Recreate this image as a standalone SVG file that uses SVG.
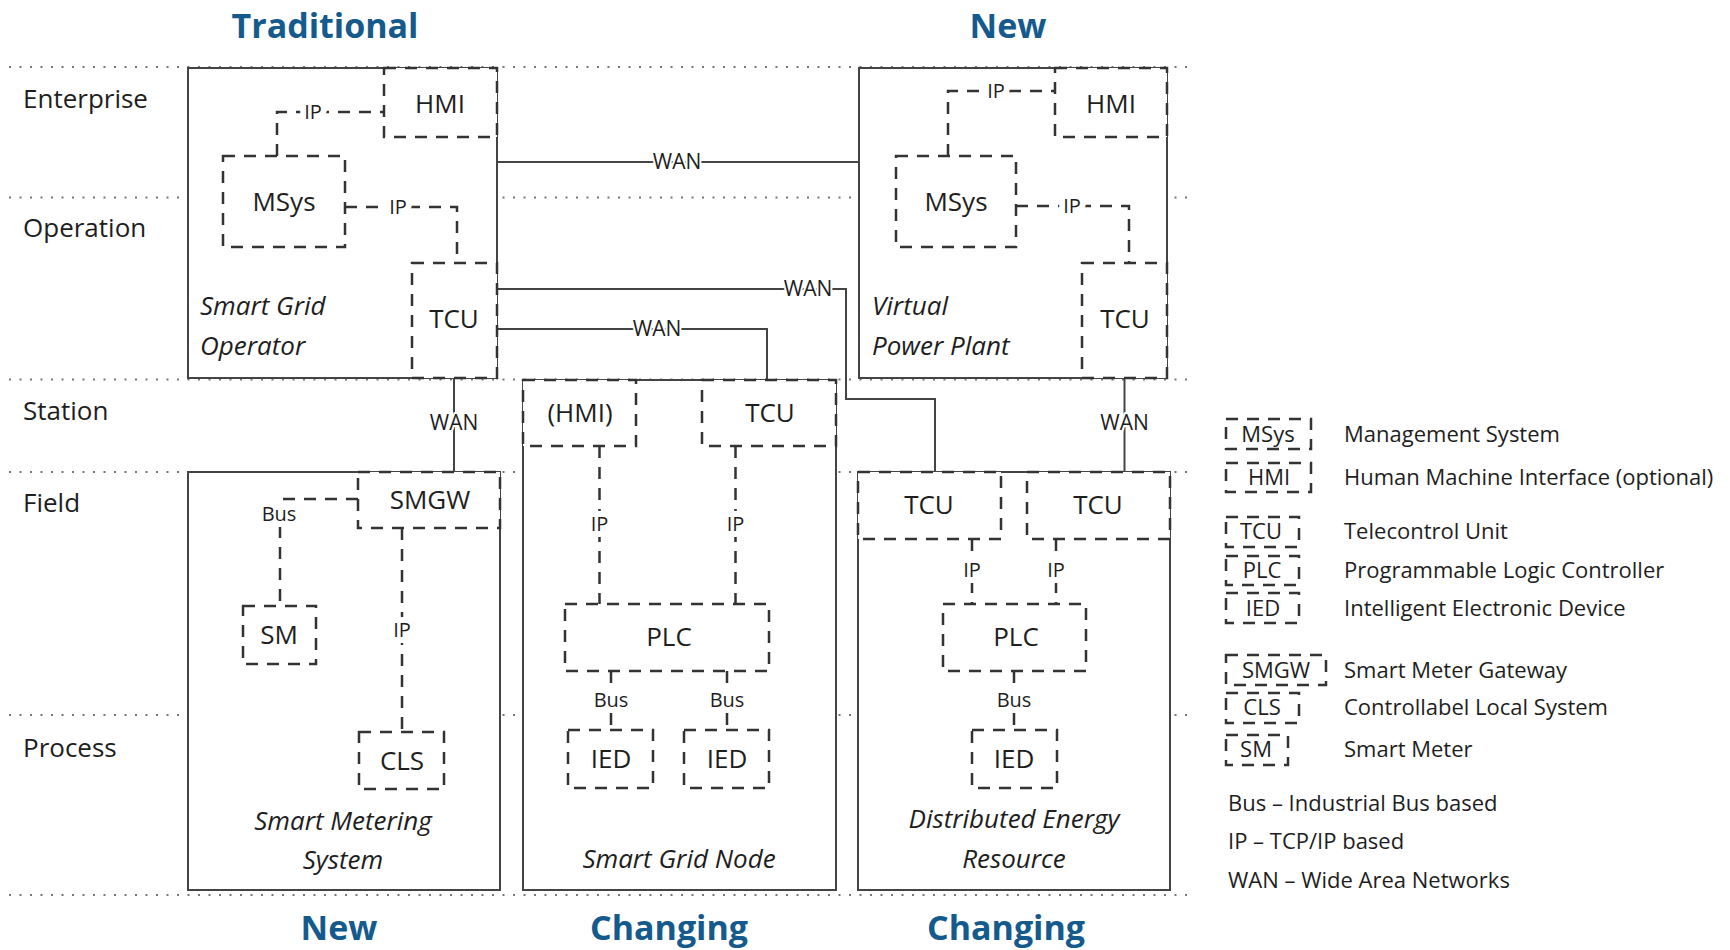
<svg xmlns="http://www.w3.org/2000/svg" width="1730" height="950" viewBox="0 0 1730 950">
<style>
.bg{fill:#fff}
.grid{stroke:#777;stroke-width:2;stroke-dasharray:2 8.5;fill:none}
.par{fill:#fff;stroke:#444;stroke-width:2}
.dn{fill:#fff;stroke:#333;stroke-width:2.5;stroke-dasharray:12 9}
.lg{fill:none;stroke:#333;stroke-width:2.5;stroke-dasharray:12 9}
.sol{fill:none;stroke:#444;stroke-width:2}
.dl{fill:none;stroke:#333;stroke-width:2.5;stroke-dasharray:12 9}
.t{font-family:'Open Sans','Liberation Sans',sans-serif;fill:#1e1e1e}
.nl{font-size:26px;text-anchor:middle}
.row{font-size:26px}
.it{font-size:26px;font-style:italic}
.cl{font-size:20px;text-anchor:middle;stroke:#fff;stroke-width:12;paint-order:stroke;stroke-linejoin:round}
.wan{font-size:21px;stroke-width:4}
.hd{font-family:'Open Sans','Liberation Sans',sans-serif;font-weight:bold;font-size:34px;fill:#145a8c;text-anchor:middle}
.lgt{font-size:22px}
</style>
<rect class="bg" x="0" y="0" width="1730" height="950"/>
<g id="layers">
<line class="grid" x1="9" y1="67" x2="1195" y2="67"/>
<line class="grid" x1="9" y1="197.5" x2="1195" y2="197.5"/>
<line class="grid" x1="9" y1="379.5" x2="1195" y2="379.5"/>
<line class="grid" x1="9" y1="472" x2="1195" y2="472"/>
<line class="grid" x1="9" y1="715" x2="1195" y2="715"/>
<line class="grid" x1="9" y1="895" x2="1195" y2="895"/>
<text class="t row" x="23" y="108">Enterprise</text>
<text class="t row" x="23" y="237">Operation</text>
<text class="t row" x="23" y="420">Station</text>
<text class="t row" x="23" y="512">Field</text>
<text class="t row" x="23" y="757">Process</text>
</g>
<g id="titles">
<text class="hd" x="325" y="38">Traditional</text>
<text class="hd" x="1008" y="38">New</text>
<text class="hd" x="339" y="940">New</text>
<text class="hd" x="669" y="940">Changing</text>
<text class="hd" x="1006" y="940">Changing</text>
</g>
<g id="sgo">
<rect class="par" x="188" y="68" width="309" height="310"/>
<text class="t it" x="200" y="315">Smart Grid</text>
<text class="t it" x="200" y="355">Operator</text>
</g>
<g id="vpp">
<rect class="par" x="859" y="68" width="308" height="310"/>
<text class="t it" x="872" y="315">Virtual</text>
<text class="t it" x="872" y="355">Power Plant</text>
</g>
<g id="sms">
<rect class="par" x="188" y="472" width="312" height="418"/>
<text class="t it" x="343" y="830" text-anchor="middle">Smart Metering</text>
<text class="t it" x="343" y="869" text-anchor="middle">System</text>
</g>
<g id="sgn">
<rect class="par" x="523" y="380" width="313" height="510"/>
<text class="t it" x="679" y="868" text-anchor="middle">Smart Grid Node</text>
</g>
<g id="der">
<rect class="par" x="858" y="472" width="312" height="418"/>
<text class="t it" x="1014" y="828" text-anchor="middle">Distributed Energy</text>
<text class="t it" x="1014" y="868" text-anchor="middle">Resource</text>
</g>
<g id="connectors">
<path class="sol" d="M497,162 H859"/>
<path class="sol" d="M497,289 H846 V399 H935 V472"/>
<path class="sol" d="M497,329 H767 V380"/>
<path class="sol" d="M454,378 V472"/>
<path class="sol" d="M1124.5,378 V472"/>
<path class="dl" d="M277,156 V112 H384"/>
<path class="dl" d="M345,207 H457 V263"/>
<path class="dl" d="M948,156 V91 H1055"/>
<path class="dl" d="M1016,206 H1129 V263"/>
<path class="dl" d="M358,499 H280 V606"/>
<path class="dl" d="M402,528 V732"/>
<path class="dl" d="M599.5,446 V604"/>
<path class="dl" d="M735.5,446 V604"/>
<path class="dl" d="M611,671 V730"/>
<path class="dl" d="M727,671 V730"/>
<path class="dl" d="M972,539 V604"/>
<path class="dl" d="M1056,539 V604"/>
<path class="dl" d="M1014,671 V730"/>
<text class="t cl wan" x="677" y="169">WAN</text>
<text class="t cl wan" x="808" y="296">WAN</text>
<text class="t cl wan" x="657" y="336">WAN</text>
<text class="t cl wan" x="454" y="430">WAN</text>
<text class="t cl wan" x="1124.5" y="430">WAN</text>
<text class="t cl" x="313" y="119">IP</text>
<text class="t cl" x="398" y="214">IP</text>
<text class="t cl" x="996" y="98">IP</text>
<text class="t cl" x="1072" y="213">IP</text>
<text class="t cl" x="279" y="521">Bus</text>
<text class="t cl" x="402" y="637">IP</text>
<text class="t cl" x="599.5" y="531">IP</text>
<text class="t cl" x="735.5" y="531">IP</text>
<text class="t cl" x="611" y="707">Bus</text>
<text class="t cl" x="727" y="707">Bus</text>
<text class="t cl" x="972" y="577">IP</text>
<text class="t cl" x="1056" y="577">IP</text>
<text class="t cl" x="1014" y="707">Bus</text>
</g>
<g id="hmi1"><rect class="dn" x="384" y="68" width="113" height="69"/><text class="t nl" x="440" y="113">HMI</text></g>
<g id="msys1"><rect class="dn" x="223" y="156" width="122" height="91"/><text class="t nl" x="284" y="211">MSys</text></g>
<g id="tcu1"><rect class="dn" x="412" y="263" width="85" height="115"/><text class="t nl" x="454" y="328">TCU</text></g>
<g id="hmi2"><rect class="dn" x="1055" y="68" width="112" height="69"/><text class="t nl" x="1111" y="113">HMI</text></g>
<g id="msys2"><rect class="dn" x="896" y="156" width="120" height="91"/><text class="t nl" x="956" y="211">MSys</text></g>
<g id="tcu2"><rect class="dn" x="1082" y="263" width="85" height="115"/><text class="t nl" x="1125" y="328">TCU</text></g>
<g id="smgw"><rect class="dn" x="358" y="472" width="142" height="56"/><text class="t nl" x="430" y="509">SMGW</text></g>
<g id="sm"><rect class="dn" x="243" y="606" width="73" height="58"/><text class="t nl" x="279" y="644">SM</text></g>
<g id="cls"><rect class="dn" x="359" y="732" width="85" height="57"/><text class="t nl" x="402" y="770">CLS</text></g>
<g id="hmi3"><rect class="dn" x="523" y="380" width="113" height="66"/><text class="t nl" x="580" y="422">(HMI)</text></g>
<g id="tcu3"><rect class="dn" x="702" y="380" width="134" height="66"/><text class="t nl" x="770" y="422">TCU</text></g>
<g id="plc3"><rect class="dn" x="565" y="604" width="204" height="67"/><text class="t nl" x="669" y="646">PLC</text></g>
<g id="ied3a"><rect class="dn" x="568" y="730" width="85" height="58"/><text class="t nl" x="611" y="768">IED</text></g>
<g id="ied3b"><rect class="dn" x="684" y="730" width="85" height="58"/><text class="t nl" x="727" y="768">IED</text></g>
<g id="tcu4a"><rect class="dn" x="858" y="472" width="143" height="67"/><text class="t nl" x="929" y="514">TCU</text></g>
<g id="tcu4b"><rect class="dn" x="1027" y="472" width="143" height="67"/><text class="t nl" x="1098" y="514">TCU</text></g>
<g id="plc4"><rect class="dn" x="943" y="604" width="143" height="67"/><text class="t nl" x="1016" y="646">PLC</text></g>
<g id="ied4"><rect class="dn" x="972" y="730" width="85" height="58"/><text class="t nl" x="1014" y="768">IED</text></g>
<g id="legend">
<rect class="lg" x="1226" y="419" width="85" height="30"/><text class="t lgt" x="1268" y="442" text-anchor="middle">MSys</text><text class="t lgt" x="1344" y="442">Management System</text>
<rect class="lg" x="1226" y="463" width="85" height="29"/><text class="t lgt" x="1269" y="485" text-anchor="middle">HMI</text><text class="t lgt" x="1344" y="485">Human Machine Interface (optional)</text>
<rect class="lg" x="1226" y="517" width="73" height="30"/><text class="t lgt" x="1261" y="539" text-anchor="middle">TCU</text><text class="t lgt" x="1344" y="539">Telecontrol Unit</text>
<rect class="lg" x="1226" y="556" width="73" height="29"/><text class="t lgt" x="1262" y="578" text-anchor="middle">PLC</text><text class="t lgt" x="1344" y="578">Programmable Logic Controller</text>
<rect class="lg" x="1226" y="593" width="73" height="30"/><text class="t lgt" x="1263" y="616" text-anchor="middle">IED</text><text class="t lgt" x="1344" y="616">Intelligent Electronic Device</text>
<rect class="lg" x="1226" y="655" width="100" height="30"/><text class="t lgt" x="1276" y="678" text-anchor="middle">SMGW</text><text class="t lgt" x="1344" y="678">Smart Meter Gateway</text>
<rect class="lg" x="1226" y="693" width="73" height="30"/><text class="t lgt" x="1262" y="715" text-anchor="middle">CLS</text><text class="t lgt" x="1344" y="715">Controllabel Local System</text>
<rect class="lg" x="1226" y="735" width="62" height="30"/><text class="t lgt" x="1256" y="757" text-anchor="middle">SM</text><text class="t lgt" x="1344" y="757">Smart Meter</text>
<text class="t lgt" x="1228" y="811">Bus – Industrial Bus based</text>
<text class="t lgt" x="1228" y="849">IP – TCP/IP based</text>
<text class="t lgt" x="1228" y="888">WAN – Wide Area Networks</text>
</g>
</svg>
